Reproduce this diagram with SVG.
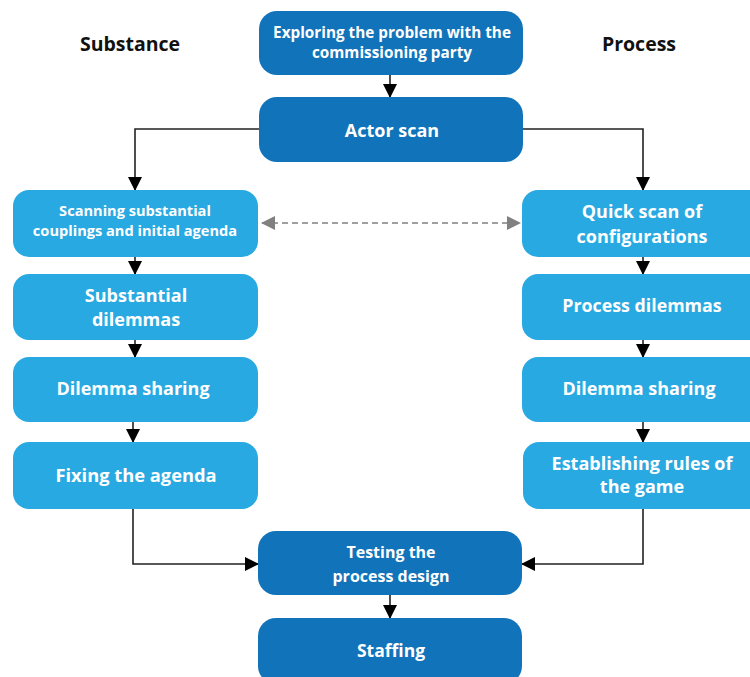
<svg xmlns="http://www.w3.org/2000/svg" width="750" height="677" viewBox="0 0 750 677">
  <style>
    .dark { fill: #1173b9; }
    .light { fill: #29a9e1; }
    .lbl { font-family: "Open Sans", "Liberation Sans", sans-serif; font-weight: 700; fill: #ffffff; text-anchor: middle; }
    .hdr { font-family: "Open Sans", "Liberation Sans", sans-serif; font-weight: 700; fill: #111111; text-anchor: middle; font-size: 19.5px; }
    .conn { fill: none; stroke: #222222; stroke-width: 1.6; }
    .dash { fill: none; stroke: #808080; stroke-width: 1.6; stroke-dasharray: 6 4; }
  </style>
  <defs>
    <marker id="arr" markerUnits="userSpaceOnUse" markerWidth="14" markerHeight="14" viewBox="0 0 14 14" refX="13" refY="7" orient="auto">
      <path d="M0,0 L14,7 L0,14 z" fill="#000000"/>
    </marker>
    <marker id="garr" markerUnits="userSpaceOnUse" markerWidth="14" markerHeight="14" viewBox="0 0 14 14" refX="13" refY="7" orient="auto-start-reverse">
      <path d="M0,0 L14,7 L0,14 z" fill="#808080"/>
    </marker>
  </defs>

  <rect width="750" height="677" fill="#ffffff"/>

  <text class="hdr" x="130" y="51">Substance</text>
  <text class="hdr" x="639" y="51">Process</text>

  <g id="connectors">
    <line class="conn" x1="390" y1="75" x2="390" y2="97" marker-end="url(#arr)"/>
    <polyline class="conn" points="259,129 135,129 135,190" marker-end="url(#arr)"/>
    <polyline class="conn" points="523,129 643,129 643,190" marker-end="url(#arr)"/>
    <line class="dash" x1="262" y1="223" x2="520" y2="223" marker-start="url(#garr)" marker-end="url(#garr)"/>
    <line class="conn" x1="135" y1="257" x2="135" y2="274" marker-end="url(#arr)"/>
    <line class="conn" x1="135" y1="340" x2="135" y2="357" marker-end="url(#arr)"/>
    <line class="conn" x1="133" y1="422" x2="133" y2="442" marker-end="url(#arr)"/>
    <line class="conn" x1="643" y1="257" x2="643" y2="274" marker-end="url(#arr)"/>
    <line class="conn" x1="643" y1="340" x2="643" y2="357" marker-end="url(#arr)"/>
    <line class="conn" x1="643" y1="422" x2="643" y2="442" marker-end="url(#arr)"/>
    <polyline class="conn" points="133,509 133,564 258,564" marker-end="url(#arr)"/>
    <polyline class="conn" points="643,509 643,564 522,564" marker-end="url(#arr)"/>
    <line class="conn" x1="390" y1="595" x2="390" y2="618" marker-end="url(#arr)"/>
  </g>

  <g id="explore">
    <rect class="dark" x="259" y="11" width="264" height="64" rx="18"/>
    <text class="lbl" x="392" y="38" font-size="15.3">Exploring the problem with the</text>
    <text class="lbl" x="392" y="58" font-size="15.3">commissioning party</text>
  </g>
  <g id="actor-scan">
    <rect class="dark" x="259" y="97" width="264" height="65" rx="18"/>
    <text class="lbl" x="392" y="137" font-size="18">Actor scan</text>
  </g>

  <g id="scan-couplings">
    <rect class="light" x="13" y="190" width="245" height="67" rx="16"/>
    <text class="lbl" x="135" y="216" font-size="14.6">Scanning substantial</text>
    <text class="lbl" x="135" y="236" font-size="14.6">couplings and initial agenda</text>
  </g>
  <g id="substantial-dilemmas">
    <rect class="light" x="13" y="274" width="245" height="66" rx="16"/>
    <text class="lbl" x="136" y="302" font-size="18">Substantial</text>
    <text class="lbl" x="136" y="326" font-size="18">dilemmas</text>
  </g>
  <g id="dilemma-sharing-left">
    <rect class="light" x="13" y="357" width="245" height="65" rx="16"/>
    <text class="lbl" x="133" y="395" font-size="18">Dilemma sharing</text>
  </g>
  <g id="fixing-agenda">
    <rect class="light" x="13" y="442" width="245" height="67" rx="16"/>
    <text class="lbl" x="136" y="482" font-size="18.3">Fixing the agenda</text>
  </g>

  <g id="quick-scan">
    <rect class="light" x="522" y="190" width="245" height="67" rx="16"/>
    <text class="lbl" x="642" y="218" font-size="18">Quick scan of</text>
    <text class="lbl" x="642" y="243" font-size="18">configurations</text>
  </g>
  <g id="process-dilemmas">
    <rect class="light" x="522" y="274" width="245" height="66" rx="16"/>
    <text class="lbl" x="642" y="312" font-size="17.8">Process dilemmas</text>
  </g>
  <g id="dilemma-sharing-right">
    <rect class="light" x="522" y="357" width="245" height="65" rx="16"/>
    <text class="lbl" x="639" y="395" font-size="18">Dilemma sharing</text>
  </g>
  <g id="rules-of-game">
    <rect class="light" x="523" y="442" width="245" height="67" rx="16"/>
    <text class="lbl" x="642" y="470" font-size="18">Establishing rules of</text>
    <text class="lbl" x="642" y="493" font-size="18">the game</text>
  </g>

  <g id="testing">
    <rect class="dark" x="258" y="531" width="264" height="64" rx="18"/>
    <text class="lbl" x="391" y="558" font-size="16">Testing the</text>
    <text class="lbl" x="391" y="582" font-size="16">process design</text>
  </g>
  <g id="staffing">
    <rect class="dark" x="258" y="618" width="264" height="66" rx="18"/>
    <text class="lbl" x="391" y="657" font-size="17.5">Staffing</text>
  </g>
</svg>
